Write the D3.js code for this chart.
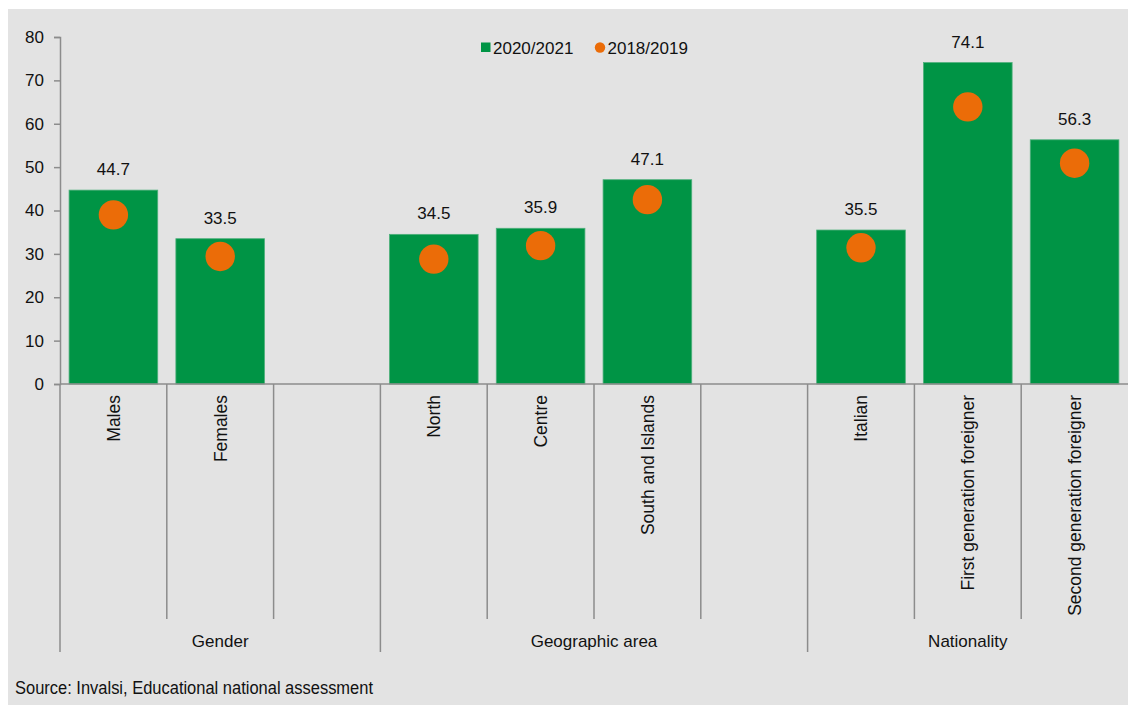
<!DOCTYPE html>
<html>
<head>
<meta charset="utf-8">
<script src="https://cdn.jsdelivr.net/npm/d3@7/dist/d3.min.js"></script>
<style>
  html, body { margin: 0; padding: 0; background: #ffffff; }
  svg { display: block; }
  text { font-family: "Liberation Sans", Arial, sans-serif; fill: #111; }
</style>
</head>
<body>
<svg id="chart" width="1128" height="705"></svg>
<script>
// Categories, in slot order; empty strings are spacer slots between groups
const categories = ["Males", "Females", "", "North", "Centre", "South and Islands", "", "Italian", "First generation foreigner", "Second generation foreigner"];
// Bars: 2020/2021
const values2021 = [44.7, 33.5, null, 34.5, 35.9, 47.1, null, 35.5, 74.1, 56.3];
// Dots: 2018/2019
const values2019 = [39.0, 29.4, null, 28.8, 31.9, 42.5, null, 31.4, 63.9, 50.9];
// Groups: name and number of slots each covers
const groups = [
  { name: "Gender", span: 3 },
  { name: "Geographic area", span: 4 },
  { name: "Nationality", span: 3 }
];
const yTicks = [0, 10, 20, 30, 40, 50, 60, 70, 80];
const seriesNames = ["2020/2021", "2018/2019"];

const GREEN = "#009445";
const ORANGE = "#eb6c08";
const AXIS = "#8c8c8c";

const svg = d3.select("#chart");

// panel background
svg.append("rect")
  .attr("x", 8).attr("y", 9)
  .attr("width", 1128 - 8).attr("height", 705 - 9)
  .attr("fill", "#e3e3e3");

const plotLeft = 60, plotRight = 1128, plotTop = 37, plotBottom = 384;

const x = d3.scaleBand()
  .domain(d3.range(categories.length))
  .range([plotLeft, plotRight])
  .paddingInner(0.17)
  .paddingOuter(0.085);

const y = d3.scaleLinear().domain([0, 80]).range([plotBottom, plotTop]);

const step = x.step();
const slotLeft = i => plotLeft + i * step;

// bars
const barData = values2021.map((v, i) => ({ v, i })).filter(d => d.v != null);
svg.append("g").selectAll("rect")
  .data(barData)
  .join("rect")
  .attr("x", d => x(d.i))
  .attr("y", d => y(d.v))
  .attr("width", x.bandwidth())
  .attr("height", d => y(0) - y(d.v))
  .attr("fill", GREEN)
  .attr("stroke", "#4fb07c")
  .attr("stroke-width", 0.8);

// value labels
svg.append("g").selectAll("text")
  .data(barData)
  .join("text")
  .attr("x", d => x(d.i) + x.bandwidth() / 2)
  .attr("y", d => y(d.v) - 15)
  .attr("text-anchor", "middle")
  .attr("font-size", 17)
  .text(d => d.v.toFixed(1));

// dots
const dotData = values2019.map((v, i) => ({ v, i })).filter(d => d.v != null);
svg.append("g").selectAll("circle")
  .data(dotData)
  .join("circle")
  .attr("cx", d => x(d.i) + x.bandwidth() / 2)
  .attr("cy", d => y(d.v))
  .attr("r", 14.7)
  .attr("fill", ORANGE);

// y axis
const yAxis = d3.axisLeft(y).tickValues(yTicks).tickSize(6).tickPadding(10);
const gy = svg.append("g").attr("transform", `translate(${plotLeft},0)`).call(yAxis);
gy.select(".domain").attr("stroke", AXIS).attr("stroke-width", 1.5);
gy.selectAll(".tick line").attr("stroke", AXIS).attr("stroke-width", 1.5);
gy.selectAll(".tick text")
  .attr("font-size", 17)
  .attr("font-family", "'Liberation Sans', Arial, sans-serif")
  .attr("fill", "#111");

// x axis baseline
svg.append("line")
  .attr("x1", plotLeft).attr("x2", plotRight)
  .attr("y1", y(0)).attr("y2", y(0))
  .attr("stroke", AXIS).attr("stroke-width", 1.5);

// slot and group separators
const groupStarts = [];
let acc = 0;
groups.forEach(g => { groupStarts.push(acc); acc += g.span; });
const sepG = svg.append("g");
for (let i = 0; i < categories.length; i++) {
  const isGroup = groupStarts.includes(i);
  sepG.append("line")
    .attr("x1", slotLeft(i)).attr("x2", slotLeft(i))
    .attr("y1", y(0)).attr("y2", isGroup ? 652 : 619)
    .attr("stroke", AXIS).attr("stroke-width", 1.5);
}

// category labels, rotated
svg.append("g").selectAll("text")
  .data(categories.map((c, i) => ({ c, i })).filter(d => d.c !== ""))
  .join("text")
  .attr("transform", d => `translate(${x(d.i) + x.bandwidth() / 2},395) rotate(-90)`)
  .attr("text-anchor", "end")
  .attr("dy", "0.36em")
  .attr("font-size", 17.5)
  .text(d => d.c);

// group labels
svg.append("g").selectAll("text")
  .data(groups.map((g, k) => ({ g, start: groupStarts[k] })))
  .join("text")
  .attr("x", d => slotLeft(d.start) + d.g.span * step / 2)
  .attr("y", 647)
  .attr("text-anchor", "middle")
  .attr("font-size", 17)
  .text(d => d.g.name);

// legend
const lg = svg.append("g");
lg.append("rect").attr("x", 481).attr("y", 42.5).attr("width", 9.5).attr("height", 9.5).attr("fill", GREEN);
lg.append("text").attr("x", 493).attr("y", 54).attr("font-size", 17).text(seriesNames[0]);
lg.append("circle").attr("cx", 600).attr("cy", 47.5).attr("r", 5.2).attr("fill", ORANGE);
lg.append("text").attr("x", 607.5).attr("y", 54).attr("font-size", 17).text(seriesNames[1]);

// source note
svg.append("text")
  .attr("x", 15).attr("y", 694)
  .attr("font-size", 17.5)
  .attr("font-family", "'Liberation Sans Narrow', 'Roboto Condensed', 'Liberation Sans', Arial, sans-serif")
  .attr("textLength", 358)
  .attr("lengthAdjust", "spacingAndGlyphs")
  .text("Source: Invalsi, Educational national assessment");
</script>
</body>
</html>
